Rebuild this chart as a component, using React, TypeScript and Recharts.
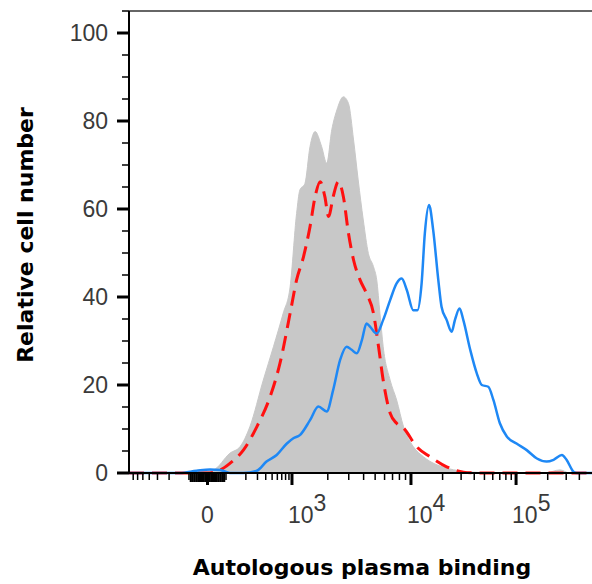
import React from 'react';
import { ComposedChart, Area, Line, XAxis, YAxis, ReferenceLine, Label } from 'recharts';

// x values are display channels (0-1000) of the biexponential axis
const grayCh = [0, 110, 146, 182, 218, 240, 261, 290, 312, 333, 348, 362, 369, 380, 391, 402, 416, 427, 438, 449, 463, 474, 485, 495, 506, 517, 528, 535, 542, 549, 564, 578, 593, 614, 636, 686, 744, 794, 902, 931, 952, 1000];
const grayVal = [0, 0, 0.2, 0.7, 4.5, 6.0, 10.5, 21.1, 28.7, 36.3, 42.3, 59.0, 64.3, 65.8, 74.2, 77.6, 74.2, 70.4, 78.0, 82.5, 85.5, 84.0, 75.7, 66.6, 57.5, 49.9, 46.9, 43.9, 36.3, 28.7, 21.1, 16.6, 10.5, 6.0, 3.7, 1.1, 0.2, 0, 0.1, 0.7, 0, 0];

const redCh = [0, 168, 197, 218, 247, 276, 305, 326, 348, 362, 377, 391, 402, 413, 423, 431, 441, 452, 463, 474, 485, 499, 513, 528, 539, 549, 564, 578, 593, 621, 650, 686, 722, 758, 1000];
const redVal = [0, 0, 0.7, 2.2, 5.2, 10.5, 17.4, 24.9, 36.3, 43.9, 49.2, 56.0, 62.8, 66.2, 62.8, 58.3, 62.8, 66.2, 62.8, 54.5, 48.4, 43.9, 40.8, 36.3, 28.7, 21.1, 13.6, 11.3, 10.2, 6.0, 3.7, 1.4, 0.2, 0, 0];

const blueCh = [0, 110, 146, 175, 197, 218, 247, 276, 297, 319, 341, 355, 369, 391, 409, 427, 441, 456, 470, 481, 492, 503, 513, 521, 535, 549, 564, 578, 589, 600, 614, 623, 632, 639, 648, 657, 668, 675, 686, 697, 704, 714, 722, 737, 751, 762, 776, 787, 801, 816, 837, 859, 881, 902, 917, 935, 945, 960, 967, 1000];
const blueVal = [0, 0, 0.5, 0.8, 0.7, 0, 0, 0.5, 2.6, 4.1, 6.7, 7.9, 8.6, 12.0, 15.1, 14.0, 18.9, 25.7, 28.7, 28.0, 27.2, 30.2, 34.0, 33.2, 31.7, 34.8, 39.3, 43.1, 44.2, 41.6, 37.0, 37.0, 43.1, 54.5, 60.9, 55.2, 43.9, 37.8, 34.8, 32.1, 34.8, 37.4, 34.8, 28.0, 22.7, 20.0, 19.6, 16.6, 11.3, 8.3, 6.7, 5.2, 3.3, 2.6, 3.0, 4.1, 3.0, 0.3, 0, 0];

const majorX = [0, 1e3, 1e4, 1e5];
const majorXExp = ['', '3', '4', '5'];
const yMajor = [0, 20, 40, 60, 80, 100];

// biexponential-ish display transform (value -> channel)
const ZERO_CH = 169.5;
const LIN_HALF = 40;
const DECADES = [142.5, 257, 227];
function toChannel(v: number): number {
  const s = v < 0 ? -1 : 1;
  const a = Math.abs(v);
  if (a <= 100) return ZERO_CH + v / 100 * LIN_HALF;
  let d = LIN_HALF;
  if (a <= 1e3) d += Math.log10(a / 100) * DECADES[0];
  else if (a <= 1e4) d += DECADES[0] + Math.log10(a / 1e3) * DECADES[1];
  else d += DECADES[0] + DECADES[1] + Math.log10(a / 1e4) * DECADES[2];
  return ZERO_CH + s * d;
}

const minorX: number[] = [];
for (let v = -700; v <= -200; v += 100) minorX.push(v);
for (let v = -100; v <= 100; v += 10) if (v !== 0) minorX.push(v);
for (const dec of [100, 1e3, 1e4, 1e5]) {
  const top = dec === 1e5 ? 4 : 9;
  for (let k = 2; k <= top; k++) minorX.push(k * dec);
}

type XT = { ch: number; major: boolean; dense?: boolean; label?: string; exp?: string };
const xTicks: XT[] = [
  ...minorX.map((v) => ({ ch: toChannel(v), major: false, dense: Math.abs(v) < 100 })),
  ...majorX.map((v, i) => ({ ch: toChannel(v), major: true, label: i === 0 ? '0' : '10', exp: majorXExp[i] })),
].sort((a, b) => a.ch - b.ch);

const yTicks: number[] = [];
for (let v = 0; v <= 105; v += 5) yTicks.push(v);

const mk = (ch: number[], val: number[]) => ch.map((c, i) => ({ ch: c, v: val[i] }));
const grayData = mk(grayCh, grayVal);
const redData = mk(redCh, redVal);
const blueData = mk(blueCh, blueVal);

const tickFont = { fontFamily: '"Liberation Sans", Arial, sans-serif', fontSize: 23, fill: '#3a3a3a' };
const titleFont = { fontFamily: '"DejaVu Sans", Verdana, sans-serif', fontSize: 22, fontWeight: 'bold' as const, fill: '#000' };

const XTick = (props: any) => {
  const { x, y, payload } = props;
  const t = xTicks.find((d) => Math.abs(d.ch - payload.value) < 0.01);
  if (!t) return null;
  const len = t.major ? 12 : t.dense ? 9 : 7;
  const w = t.major ? 3 : t.dense ? 2.2 : 1.5;
  return (
    <g>
      <line x1={x} x2={x} y1={y} y2={y + len} stroke="#000" strokeWidth={w} />
      {t.label === '0' && (
        <text x={x} y={y + 50} textAnchor="middle" {...tickFont}>0</text>
      )}
      {t.label === '10' && (
        <text x={x - 4} y={y + 50} textAnchor="start" {...tickFont}>
          10<tspan dy={-12}>{t.exp}</tspan>
        </text>
      )}
    </g>
  );
};

const YTick = (props: any) => {
  const { x, y, payload } = props;
  const v = payload.value;
  const major = yMajor.includes(v);
  return (
    <g>
      <line x1={x - (major ? 12 : 7)} x2={x} y1={y} y2={y} stroke="#000" strokeWidth={major ? 3 : 1.5} />
      {major && (
        <text x={x - 21} y={y} dy="0.36em" textAnchor="end" {...tickFont}>{v}</text>
      )}
    </g>
  );
};

export default function App() {
  return (
    <div style={{ position: 'absolute', left: 0, top: 0, background: '#fff' }}>
      <ComposedChart width={592} height={584} margin={{ top: 11, right: 0, bottom: 0, left: 0 }}>
        <XAxis
          type="number"
          dataKey="ch"
          domain={[0, 1000]}
          ticks={xTicks.map((t) => t.ch)}
          interval={0}
          height={111}
          tickSize={0}
          tickMargin={0}
          tickLine={false}
          tick={<XTick />}
          axisLine={{ stroke: '#000', strokeWidth: 2 }}
        >
          <Label
            content={() => (
              <text x={362} y={575} textAnchor="middle" {...titleFont}>Autologous plasma binding</text>
            )}
          />
        </XAxis>
        <YAxis
          type="number"
          domain={[0, 105]}
          ticks={yTicks}
          interval={0}
          width={129}
          tickSize={0}
          tickMargin={0}
          tickLine={false}
          tick={<YTick />}
          axisLine={{ stroke: '#000', strokeWidth: 2 }}
        >
          <Label
            content={() => (
              <text transform="translate(33,235) rotate(-90)" textAnchor="middle" {...titleFont}>Relative cell number</text>
            )}
          />
        </YAxis>
        <ReferenceLine y={105} stroke="#333" strokeWidth={1.5} />
        <Area
          data={grayData}
          dataKey="v"
          type="monotone"
          fill="#c8c8c8"
          fillOpacity={1}
          stroke="#c8c8c8"
          strokeWidth={1}
          isAnimationActive={false}
          dot={false}
          activeDot={false}
        />
        <Line
          data={redData}
          dataKey="v"
          type="monotone"
          stroke="#ff1010"
          strokeWidth={3}
          strokeDasharray="15 8"
          dot={false}
          activeDot={false}
          isAnimationActive={false}
        />
        <Line
          data={blueData}
          dataKey="v"
          type="monotone"
          stroke="#1e88f5"
          strokeWidth={2.5}
          dot={false}
          activeDot={false}
          isAnimationActive={false}
        />
      </ComposedChart>
    </div>
  );
}
